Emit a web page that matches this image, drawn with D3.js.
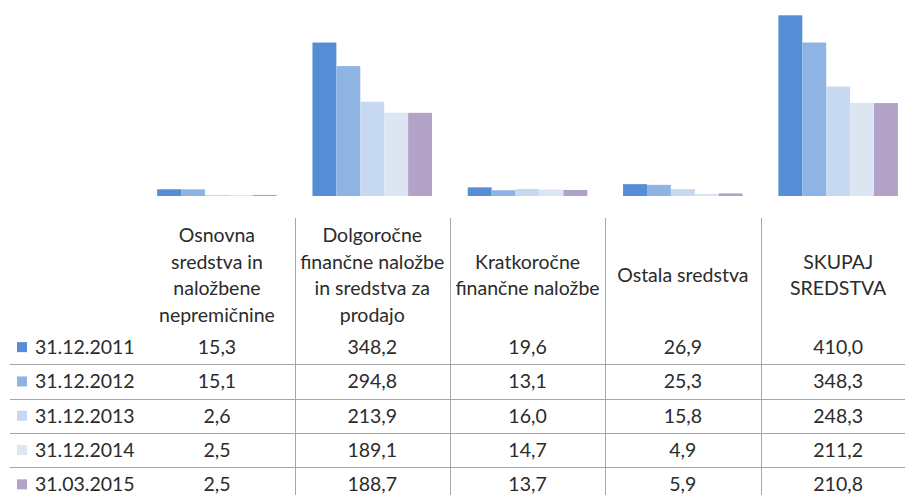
<!DOCTYPE html>
<html>
<head>
<meta charset="utf-8">
<script src="https://cdn.jsdelivr.net/npm/d3@7"></script>
<style>
  html, body { margin: 0; padding: 0; background: #fff; }
  svg { display: block; }
  text { font-family: Lato, "Open Sans", sans-serif; fill: #2b2b2b; }
</style>
</head>
<body>
<svg id="chart" width="905" height="495"></svg>
<script>
const categories = ["Osnovna sredstva in naložbene nepremičnine", "Dolgoročne finančne naložbe in sredstva za prodajo", "Kratkoročne finančne naložbe", "Ostala sredstva", "SKUPAJ SREDSTVA"];
const categoryLines = [
  ["Osnovna", "sredstva in", "naložbene", "nepremičnine"],
  ["Dolgoročne", "finančne naložbe", "in sredstva za", "prodajo"],
  ["Kratkoročne", "finančne naložbe"],
  ["Ostala sredstva"],
  ["SKUPAJ", "SREDSTVA"]
];
const seriesNames = ["31.12.2011", "31.12.2012", "31.12.2013", "31.12.2014", "31.03.2015"];
const v2011 = [15.3, 348.2, 19.6, 26.9, 410.0];
const v2012 = [15.1, 294.8, 13.1, 25.3, 348.3];
const v2013 = [2.6, 213.9, 16.0, 15.8, 248.3];
const v2014 = [2.5, 189.1, 14.7, 4.9, 211.2];
const v2015 = [2.5, 188.7, 13.7, 5.9, 210.8];
const seriesValues = [v2011, v2012, v2013, v2014, v2015];
const colors = ["#558ed5", "#8eb4e3", "#c6d9f1", "#dce6f2", "#b3a2c7"];

const svg = d3.select("#chart");
const fmt = v => d3.format(".1f")(v).replace(".", ",");

const x0 = d3.scaleBand().domain(categories).range([139.3, 139.3 + 5 * 155.3]).padding(0);
const bw = x0.bandwidth();
const x1 = d3.scaleBand().domain(seriesNames).range([bw * 0.115, bw * 0.885]).padding(0);
const y = d3.scaleLinear().domain([0, 410]).range([196, 15.3]);

// bars
const groups = svg.append("g").selectAll("g").data(seriesNames).join("g");
groups.each(function(s, si) {
  d3.select(this).selectAll("rect")
    .data(categories.map((c, ci) => ({c, v: seriesValues[si][ci]})))
    .join("rect")
    .attr("x", d => x0(d.c) + x1(s))
    .attr("y", d => y(d.v))
    .attr("width", x1.bandwidth())
    .attr("height", d => y(0) - y(d.v))
    .attr("fill", colors[si]);
});

// table
const headerTop = 218, headerMid = 275, rowTop = 330, rowH = 34.3;
const lineColor = "#a6a6a6";
const fs = 19.5;
const t = svg.append("g");

t.selectAll("line.v").data(categories.slice(1)).join("line")
  .attr("x1", d => Math.round(x0(d)) + 0.5).attr("x2", d => Math.round(x0(d)) + 0.5)
  .attr("y1", headerTop).attr("y2", 495)
  .attr("stroke", lineColor).attr("stroke-width", 1);

t.selectAll("line.h").data(seriesNames.slice(1)).join("line")
  .attr("x1", 10).attr("x2", 905)
  .attr("y1", (d, i) => Math.round(rowTop + (i + 1) * rowH) + 0.5)
  .attr("y2", (d, i) => Math.round(rowTop + (i + 1) * rowH) + 0.5)
  .attr("stroke", lineColor).attr("stroke-width", 1);

const lh = 26.6;
categories.forEach((c, ci) => {
  const lines = categoryLines[ci];
  const cx = x0(c) + bw / 2;
  const start = headerMid - (lines.length - 1) * lh / 2;
  const tx = t.append("text").attr("text-anchor", "middle").attr("font-size", fs);
  lines.forEach((l, li) => {
    tx.append("tspan").attr("x", cx).attr("y", start + li * lh).attr("dy", "0.35em").text(l);
  });
});

seriesNames.forEach((s, si) => {
  const cy = rowTop + si * rowH + rowH / 2;
  t.append("rect").attr("x", 17).attr("y", cy - 5).attr("width", 10).attr("height", 10).attr("fill", colors[si]);
  t.append("text").attr("x", 35).attr("y", cy).attr("dy", "0.35em").attr("font-size", fs).text(s);
  categories.forEach((c, ci) => {
    t.append("text").attr("x", x0(c) + bw / 2).attr("y", cy).attr("dy", "0.35em")
      .attr("text-anchor", "middle").attr("font-size", fs).text(fmt(seriesValues[si][ci]));
  });
});
</script>
</body>
</html>
